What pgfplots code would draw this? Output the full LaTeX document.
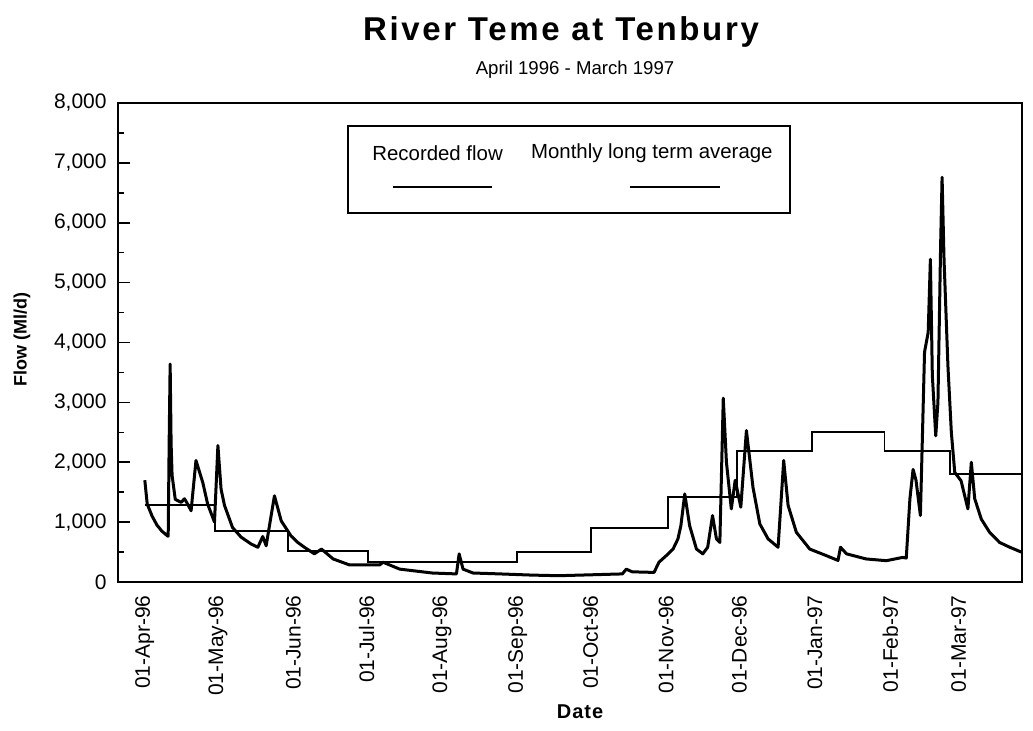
\documentclass[border=0pt]{standalone}
\usepackage{pgfplots}
\pgfplotsset{compat=1.18}
\usepackage{fontspec}
\setmainfont{Liberation Sans}
\newfontfamily\widefont[LetterSpace=8]{Liberation Sans}
\newfontfamily\datefont[LetterSpace=5]{Liberation Sans}

\pgfplotstableread{
day flow
0 1700
1 1300
3 1100
5 950
7 850
9.3 770
9.6 765
10.0 2350
10.4 3640
10.8 2300
11.2 1780
12.5 1380
14.9 1330
16.3 1390
17.6 1300
19 1190
21 2030
23.8 1660
25.8 1300
28.6 1000
30 2280
31.3 1550
32.7 1280
36 910
39.5 750
43.6 635
46.4 580
48.4 760
49.8 605
53.2 1440
56 1020
60 770
62.8 660
65.5 580
69.6 470
72.5 550
77.3 385
84 285
96.4 285
97.8 330
104.6 215
118 150
127.9 135
129 470
130.6 215
134.7 150
145.7 135
159 115
170 105
196 135
197.6 215
200 170
209 160
211 330
214 440
216.8 550
218.8 720
220 940
221.6 1470
223.6 940
226.4 550
229 470
231 580
233 1110
234.6 720
236 660
237.4 3070
238.7 2000
240.7 1220
242.3 1700
244.6 1250
246.9 2530
249.6 1580
252.4 970
255.8 720
259.9 580
262.2 2030
264 1280
267.4 830
272.9 550
279.7 440
284.5 360
285.5 580
288 470
296 385
304.3 356
311 410
312.5 400
314 1390
315.3 1880
316.5 1700
318.3 1110
319 2220
320 3840
321.5 4170
322.4 5390
323.2 3450
324.6 2440
325.5 3000
326.6 5620
327.2 6760
328 5390
329.6 3610
331 2500
332.4 1830
335 1690
337.8 1220
339.2 2000
340.6 1390
343.3 1050
346.7 830
350.8 660
355 580
359.7 500
}\flowdata

\pgfplotstableread{
day avg
0 1280
28.7 850
58.7 520
91.5 335
122 335
152.6 500
183 900
214.6 1420
243 2190
273.7 2500
303.6 2190
330.3 1800
359.5 1800
}\avgdata

\begin{document}
\begin{tikzpicture}
\path[use as bounding box] (-59pt,-74.5pt) rectangle (457.5pt,291pt);
\begin{axis}[
  at={(0,0)}, anchor=south west,
  scale only axis, width=452pt, height=239.5pt,
  xmin=-11, xmax=360, ymin=0, ymax=8000,
  axis line style={line width=1pt},
  xtick={0,30,61,91,122,153,183,214,244,275,306,334},
  xticklabels={01-Apr-96,01-May-96,01-Jun-96,01-Jul-96,01-Aug-96,01-Sep-96,01-Oct-96,01-Nov-96,01-Dec-96,01-Jan-97,01-Feb-97,01-Mar-97},
  xtick style={draw=none},
  x tick label style={rotate=90, anchor=east, inner sep=0pt, font=\fontsize{10.5}{12}\selectfont},
  xticklabel shift=6.5pt,
  ytick={0,1000,...,8000},
  minor y tick num=1,
  ytick pos=left,
  major tick length=6pt, minor tick length=3pt,
  y tick style={line width=0.8pt, black},
  y tick label style={inner sep=0pt, font=\fontsize{10.5}{12}\selectfont},
  yticklabel shift=5.5pt,
  scaled y ticks=false,
  /pgf/number format/1000 sep={,},
  /pgf/number format/assume math mode=true,
  clip=false,
]
\addplot[black, line width=1.5pt, line join=round] table[x=day, y=flow] {\flowdata};
\addplot[black, line width=0.9pt, const plot] table[x=day, y=avg] {\avgdata};
\end{axis}
% titles
\node[font={\fontsize{16.5}{19}\widefont\bfseries}] at (221.5pt,275pt) {River Teme at Tenbury};
\node[font={\fontsize{9.3}{11}\selectfont}] at (228.5pt,256pt) {April 1996 - March 1997};
\node[font={\fontsize{9}{10}\selectfont\bfseries}, rotate=90] at (-48pt,121pt) {Flow (Ml/d)};
\node[font={\fontsize{10}{12}\datefont\bfseries}] at (231pt,-65pt) {Date};
% legend
\draw[line width=1pt] (115pt,184.5pt) rectangle (336pt,228pt);
\node[font={\fontsize{10.2}{12}\selectfont}, anchor=west, inner sep=0pt] at (127pt,214.5pt) {Recorded flow};
\node[font={\fontsize{10.2}{12}\selectfont}, anchor=east, inner sep=0pt] at (327.5pt,214.5pt) {Monthly long term average};
\draw[line width=1.2pt] (137.5pt,197.5pt) -- (187pt,197.5pt);
\draw[line width=0.9pt] (256pt,197.5pt) -- (301pt,197.5pt);
\end{tikzpicture}
\end{document}
